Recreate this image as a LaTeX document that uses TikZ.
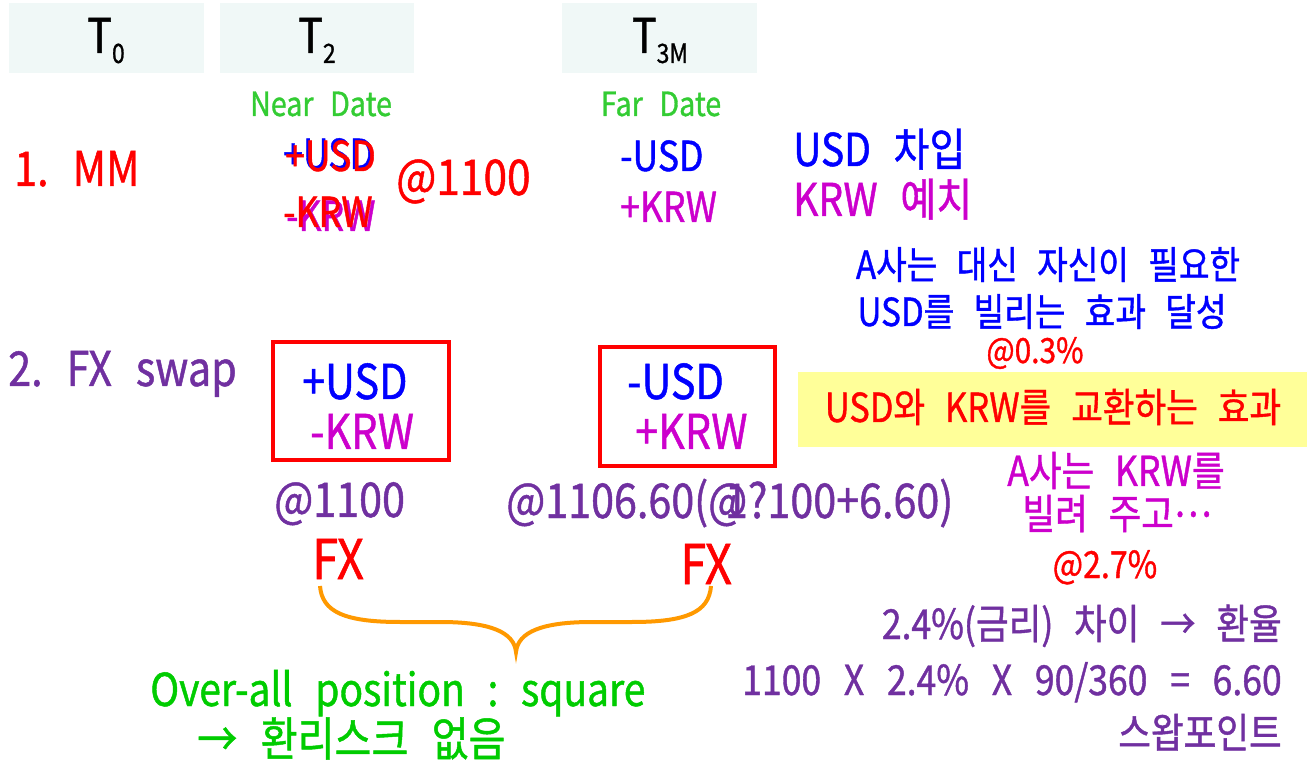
\documentclass[tikz,border=0pt]{standalone}
\usepackage{fontspec}
\setmainfont{Noto Sans CJK KR}[FakeStretch=0.86, FakeBold=1]
\usetikzlibrary{positioning}

\tikzset{
  txt/.style={inner sep=0pt, anchor=base west},
  hdbox/.style={fill={rgb,255:red,240;green,248;blue,247}, inner sep=0pt, minimum width=146pt, minimum height=52.5pt},
  swapbox/.style={draw={rgb,255:red,255;green,0;blue,0}, line width=3pt, inner sep=0pt},
}
\colorlet{cred}{red}
\definecolor{cblue}{RGB}{0,0,255}
\definecolor{cmag}{RGB}{204,0,204}
\definecolor{cpur}{RGB}{112,48,160}
\definecolor{cgreen}{RGB}{51,204,51}
\definecolor{cgreenb}{RGB}{0,204,0}
\definecolor{corange}{RGB}{255,153,0}
\definecolor{cyellow}{RGB}{255,255,153}
\newcommand{\fsz}[1]{\fontsize{#1}{#1}\selectfont}
\newcommand{\tsub}[1]{\raisebox{-7.5pt}{\fsz{20}#1}}
\newcommand{\gap}{\hspace{0.5em}}

\begin{document}
\begin{tikzpicture}[x=0.75pt,y=0.75pt,yscale=-1,xscale=1]
\useasboundingbox (0,0) rectangle (1307,766);

% header
\node [hdbox] (hzero) at (106.5,38) {};
\node [hdbox] (htwo) at (317,38) {};
\node [hdbox] (hthree) at (659.5,38) {};
\draw (106,53) node [txt, anchor=base] (tzero) {\fsz{36}T\tsub{0}};
\draw (317,53) node [txt, anchor=base] (ttwo) {\fsz{36}T\tsub{2}};
\draw (660,53) node [txt, anchor=base] (tthree) {\fsz{36}T\tsub{3M}};
\draw (321,116) node [txt, anchor=base, text=cgreen] (neard) {\fsz{25}Near\gap Date};
\draw (661,116) node [txt, anchor=base, text=cgreen] (fard) {\fsz{25}Far\gap Date};

% 1. MM
\draw (14,186) node [txt, text=cred] (mm) {\fsz{36}1.\gap MM};
\draw (283,169) node [txt, text=cblue] (mmusdb) {\fsz{31}+USD};
\draw (285,171) node [txt, text=cred] (mmusd) {\fsz{31}+USD};
\draw (286,231) node [txt, text=cmag] (mmkrwm) {\fsz{31}-KRW};
\draw (283,227) node [txt, text=cred] (mmkrw) {\fsz{31}-KRW};
\draw (396,195) node [txt, text=cred] (mmrate) {\fsz{37}@1100};
\draw (620,171) node [txt, text=cblue] (mmfusd) {\fsz{31}-USD};
\draw (620,222) node [txt, text=cmag] (mmfkrw) {\fsz{31}+KRW};
\draw (793,166) node [txt, text=cblue] (borrow) {\fsz{34}USD\gap 차입};
\draw (793,216) node [txt, text=cmag] (deposit) {\fsz{34}KRW\gap 예치};

% note A
\draw (1048,279) node [txt, anchor=base, text=cblue] (notea) {\fsz{29}A사는\gap 대신\gap 자신이\gap 필요한};
\draw (1042,326) node [txt, anchor=base, text=cblue] (noteb) {\fsz{29}USD를\gap 빌리는\gap 효과\gap 달성};
\draw (1035,363) node [txt, anchor=base, text=cred] (usdrate) {\fsz{26}@0.3\%};

% 2. FX swap
\draw (8,386) node [txt, text=cpur] (swap) {\fsz{36}2.\gap FX\gap swap};
\node [swapbox, minimum width=132pt, minimum height=88pt] (nearbox) at (360.5,401) {};
\node [swapbox, minimum width=131pt, minimum height=89pt] (farbox) at (687.5,406.5) {};
\draw (302,399) node [txt, text=cblue] (nusd) {\fsz{36}+USD};
\draw (310,449) node [txt, text=cmag] (nkrw) {\fsz{36}-KRW};
\draw (627,399) node [txt, text=cblue] (fusd) {\fsz{36}-USD};
\draw (635,449) node [txt, text=cmag] (fkrw) {\fsz{36}+KRW};
\node [fill=cyellow, inner sep=0pt, minimum width=381.75pt, minimum height=56.25pt] (effect) at (1052.5,409.5) {};
\draw (1053,422) node [txt, anchor=base, text=cred] (effecttxt) {\fsz{30}USD와\gap KRW를\gap 교환하는\gap 효과};

% rates
\draw (274,517) node [txt, text=cpur] (nrate) {\fsz{36}@1100};
\draw (506,518) node [txt, text=cpur] (frate) {\fsz{36}@1106.60(\makebox[0.35em][l]{@}1?100+6.60)};
\draw (1116,486) node [txt, anchor=base, text=cmag] (notec) {\fsz{31}A사는\gap KRW를};
\draw (1117,529) node [txt, anchor=base, text=cmag] (noted) {\fsz{31}빌려\gap 주고\raisebox{0.3em}[0pt][0pt]{…}};
\draw (1105,578) node [txt, anchor=base, text=cred] (krwrate) {\fsz{28}@2.7\%};

% FX legs and brace
\draw (312,579) node [txt, text=cred] (fxnear) {\fsz{41}FX};
\draw (680,584) node [txt, text=cred] (fxfar) {\fsz{41}FX};
\coordinate (brl) at (320,586);
\coordinate (brr) at (711,586);
\coordinate (brtip) at (516,652);
\draw [color=corange, line width=3pt] (brl) .. controls (322,612) and (345,622) .. (400,622) -- (440,622) .. controls (490,622) and (514,632) .. (brtip) .. controls (518,632) and (542,622) .. (592,622) -- (632,622) .. controls (687,622) and (709,612) .. (brr);
\draw (150,706) node [txt, text=cgreenb] (square) {\fsz{34}Over-all\gap position\gap :\gap square};
\draw (197,756) node [txt, text=cgreenb] (norisk) {\fsz{35}→\gap 환리스크\gap 없음};

% swap point
\draw (1282,639) node [txt, anchor=base east, text=cpur] (spread) {\fsz{31}2.4\%(금리)\gap 차이\gap →\gap 환율};
\draw (1282,695) node [txt, anchor=base east, text=cpur] (calc) {\fsz{31}1100\hspace{0.55em}X\hspace{0.55em}2.4\%\hspace{0.55em}X\hspace{0.55em}90/360\hspace{0.55em}=\hspace{0.55em}6.60};
\draw (1282,748) node [txt, anchor=base east, text=cpur] (swpt) {\fsz{31}스왑포인트};

\end{tikzpicture}
\end{document}
